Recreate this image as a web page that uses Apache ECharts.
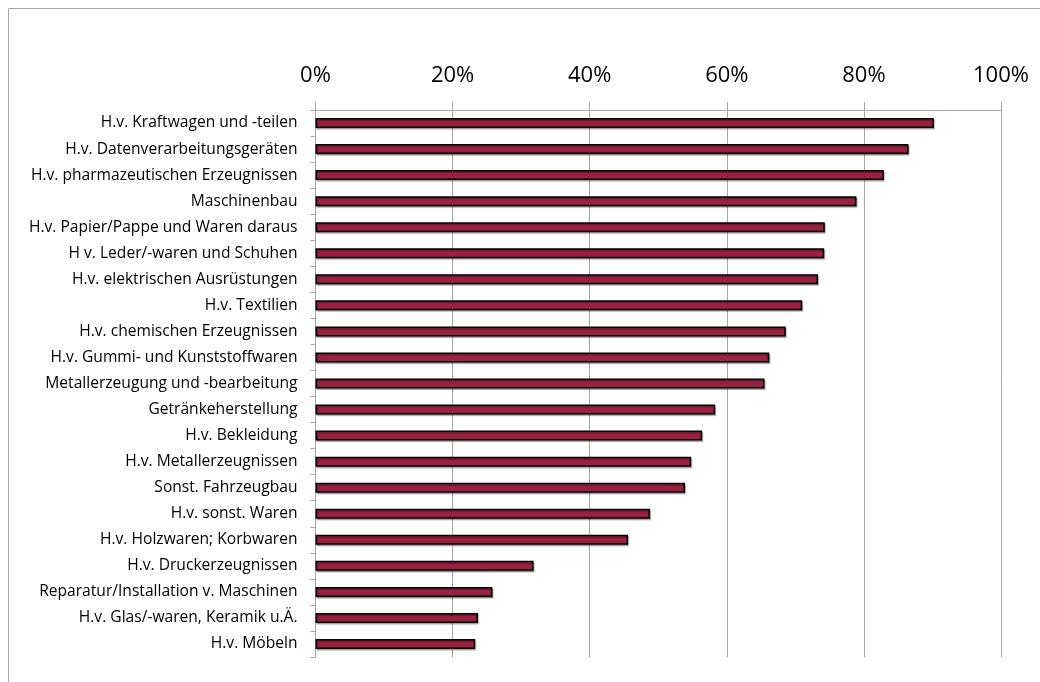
<!DOCTYPE html>
<html><head><meta charset="utf-8">
<script src="https://cdn.jsdelivr.net/npm/echarts@6/dist/echarts.min.js"></script>
<style>html,body{margin:0;padding:0;background:#fff}#c{width:1040px;height:682px}</style>
</head><body><div id="c"></div>
<script>
const categories = [
  "H.v. Kraftwagen und -teilen",
  "H.v. Datenverarbeitungsgeräten",
  "H.v. pharmazeutischen Erzeugnissen",
  "Maschinenbau",
  "H.v. Papier/Pappe und Waren daraus",
  "H v. Leder/-waren und Schuhen",
  "H.v. elektrischen Ausrüstungen",
  "H.v. Textilien",
  "H.v. chemischen Erzeugnissen",
  "H.v. Gummi- und Kunststoffwaren",
  "Metallerzeugung und -bearbeitung",
  "Getränkeherstellung",
  "H.v. Bekleidung",
  "H.v. Metallerzeugnissen",
  "Sonst. Fahrzeugbau",
  "H.v. sonst. Waren",
  "H.v. Holzwaren; Korbwaren",
  "H.v. Druckerzeugnissen",
  "Reparatur/Installation v. Maschinen",
  "H.v. Glas/-waren, Keramik u.Ä.",
  "H.v. Möbeln"
];
const values = [90.2, 86.5, 82.9, 78.9, 74.3, 74.2, 73.3, 71.0, 68.6, 66.2, 65.5, 58.3, 56.4, 54.8, 53.9, 48.8, 45.6, 31.8, 25.8, 23.7, 23.3];
const xTicks = [0, 20, 40, 60, 80, 100];

const chart = echarts.init(document.getElementById('c'), null, {renderer: 'canvas'});
const font = '"Open Sans", sans-serif';
chart.setOption({
  animation: false,
  backgroundColor: '#fff',
  graphic: [
    {type: 'line', shape: {x1: 8.5, y1: 8.5, x2: 1040, y2: 8.5}, style: {stroke: '#a6a6a6', lineWidth: 1}},
    {type: 'line', shape: {x1: 8.5, y1: 8.5, x2: 8.5, y2: 682}, style: {stroke: '#a6a6a6', lineWidth: 1}}
  ],
  grid: {left: 315.5, right: 39, top: 110, bottom: 25, containLabel: false},
  xAxis: {
    type: 'value', position: 'top', min: 0, max: 100, interval: 20,
    axisLine: {show: true, lineStyle: {color: '#a6a6a6', width: 1}},
    axisTick: {show: true, length: 8, lineStyle: {color: '#a6a6a6'}},
    splitLine: {show: true, lineStyle: {color: '#a6a6a6', width: 1}},
    axisLabel: {margin: 23, fontSize: 22, color: '#000', fontFamily: font,
      formatter: v => xTicks.includes(v) ? v + '%' : ''}
  },
  yAxis: {
    type: 'category', data: categories, inverse: true,
    axisLine: {show: true, lineStyle: {color: '#a6a6a6', width: 1}},
    axisTick: {show: true, length: 5, alignWithLabel: false, lineStyle: {color: '#a6a6a6'}},
    axisLabel: {margin: 18, fontSize: 15.6, color: '#000', fontFamily: font}
  },
  series: [{
    type: 'bar', data: values, barWidth: 10,
    itemStyle: {color: '#9b2143', borderColor: '#000', borderWidth: 1.5,
      shadowColor: 'rgba(0,0,0,0.3)', shadowOffsetX: 1, shadowOffsetY: 1.5, shadowBlur: 1}
  }]
});
</script></body></html>
